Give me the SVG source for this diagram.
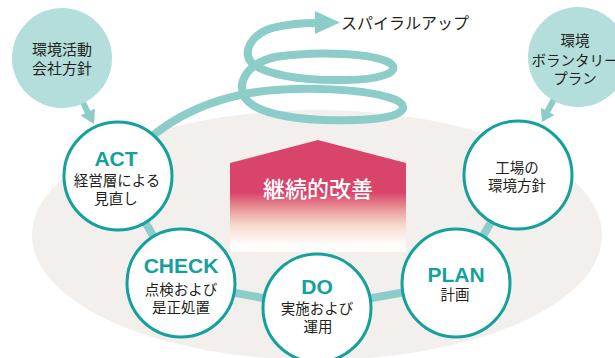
<svg xmlns="http://www.w3.org/2000/svg" width="615" height="358" viewBox="0 0 615 358">
<defs>
<linearGradient id="pinkGrad" x1="0" y1="140" x2="0" y2="252" gradientUnits="userSpaceOnUse">
<stop offset="0" stop-color="#d9456a"/>
<stop offset="0.47" stop-color="#d9456a"/>
<stop offset="0.62" stop-color="#e9999a"/>
<stop offset="0.76" stop-color="#f8d9cc"/>
<stop offset="0.92" stop-color="#fefaf7"/>
<stop offset="1" stop-color="#ffffff"/>
</linearGradient>
<style>
.bg{fill:#f2efec}
.ring{fill:none;stroke:#8dcdc9;stroke-width:8}
.arrowline{fill:none;stroke:#8dcdc9;stroke-width:6}
.arrowhead{fill:#8dcdc9}
.bubble{fill:#b3dedc}
.node{fill:#ffffff;stroke:#14a09c;stroke-width:3}
.jp{font-family:"Noto Sans CJK JP","Noto Sans",sans-serif;fill:#231f20;text-anchor:middle}
.en{font-family:"Liberation Sans",Arial,sans-serif;font-weight:bold;fill:#14a09c;text-anchor:middle;font-size:21px}
.n{font-size:14.5px}
</style>
</defs>
<ellipse class="bg" cx="317" cy="235" rx="285" ry="125"/>
<g id="connectors">
<path class="ring" d="M 518 175 L 456 283 L 317 308 L 181 283 L 118 176"/>
<path class="ring" d="M 118 176 C 145 130, 195 103, 250 93 C 300 85, 370 89, 396 100 C 412 108, 402 119, 355 120 C 300 122, 256 114, 245 98 C 237 84, 245 64, 275 57 C 320 50, 375 54, 390 63 C 402 72, 380 80, 345 80 C 300 81, 262 74, 251 62 C 243 52, 250 35, 272 28 C 287 24, 302 23, 318 23"/>
<polygon class="arrowhead" points="315,11 340,22.5 315,34"/>
<line class="arrowline" x1="78" y1="92" x2="88" y2="113"/>
<polygon class="arrowhead" points="95,108.5 94,124 80.5,115.5"/>
<line class="arrowline" x1="558" y1="92" x2="547" y2="112"/>
<polygon class="arrowhead" points="554.5,115 542,122 540.8,107.8"/>
</g>
<text class="jp" x="405" y="29" font-size="16" style="text-anchor:middle">スパイラルアップ</text>
<g id="kaizen">
<path d="M 230 163 L 318 140 L 406 163 L 406 252 L 230 252 Z" fill="url(#pinkGrad)"/>
<text class="jp" x="318" y="197" font-size="22" style="fill:#ffffff" font-weight="500">継続的改善</text>
</g>
<g id="policy">
<circle class="bubble" cx="62" cy="58" r="50"/>
<text class="jp" x="62" y="55" font-size="15">環境活動</text>
<text class="jp" x="62" y="74" font-size="15">会社方針</text>
</g>
<g id="voluntary">
<circle class="bubble" cx="578" cy="57" r="50"/>
<text class="jp n" x="575" y="46">環境</text>
<text class="jp n" x="575" y="66">ボランタリー</text>
<text class="jp n" x="575" y="84">プラン</text>
</g>
<g id="act">
<circle class="node" cx="118" cy="176" r="54"/>
<text class="en" x="116" y="166">ACT</text>
<text class="jp n" x="117" y="186">経営層による</text>
<text class="jp n" x="116" y="204">見直し</text>
</g>
<g id="factory">
<circle class="node" cx="518" cy="175" r="54"/>
<text class="jp n" x="517" y="173">工場の</text>
<text class="jp n" x="517" y="191">環境方針</text>
</g>
<g id="check">
<circle class="node" cx="181" cy="283" r="54"/>
<text class="en" x="181" y="273">CHECK</text>
<text class="jp n" x="181" y="295">点検および</text>
<text class="jp n" x="181" y="313">是正処置</text>
</g>
<g id="do">
<circle class="node" cx="317" cy="308" r="54"/>
<text class="en" x="317" y="294">DO</text>
<text class="jp n" x="317" y="314">実施および</text>
<text class="jp n" x="318" y="332">運用</text>
</g>
<g id="plan">
<circle class="node" cx="456" cy="283" r="54"/>
<text class="en" x="456" y="282">PLAN</text>
<text class="jp n" x="455" y="300">計画</text>
</g>
</svg>
